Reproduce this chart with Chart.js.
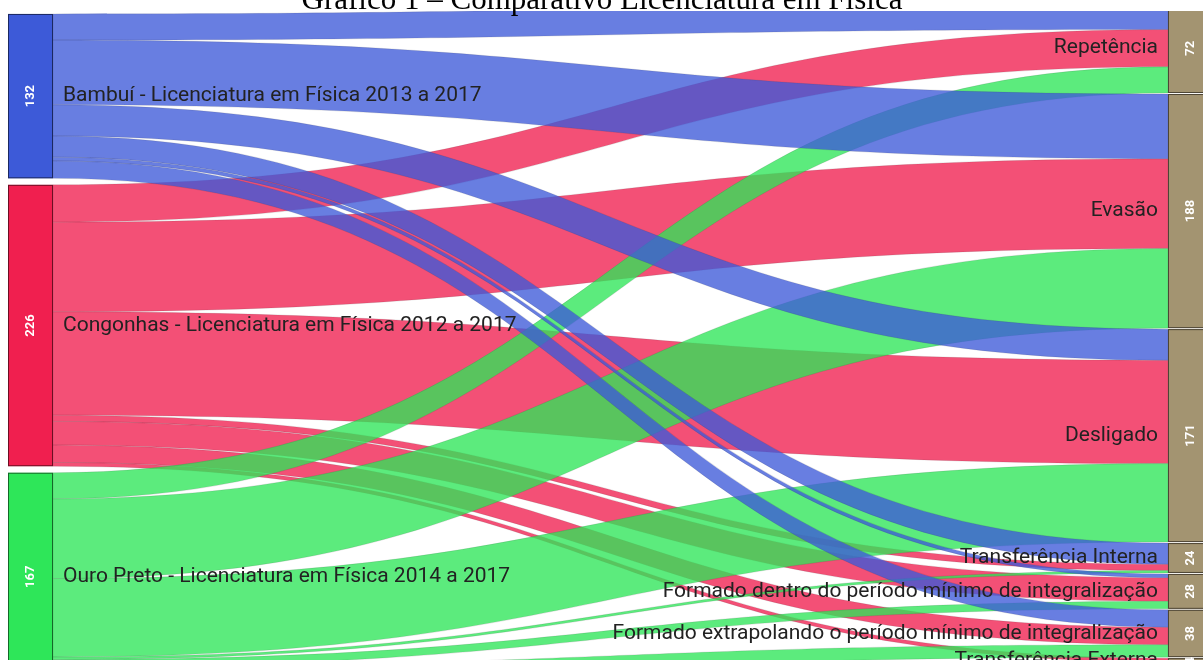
<!DOCTYPE html>
<html>
<head>
<meta charset="utf-8">
<script src="https://cdn.jsdelivr.net/npm/chart.js@4/dist/chart.umd.min.js"></script>
<style>
  html, body { margin: 0; padding: 0; background: #fff; overflow: hidden; }
  #wrap { width: 1203px; height: 660px; }
</style>
</head>
<body>
<div id="wrap"><canvas id="sankey" width="1203" height="660"></canvas></div>
<script>
// cursos (origem) e situações (destino)
const sources = [
    "Bambuí - Licenciatura em Física 2013 a 2017",
    "Congonhas - Licenciatura em Física 2012 a 2017",
    "Ouro Preto - Licenciatura em Física 2014 a 2017"
];
const targets = [
    "Repetência",
    "Evasão",
    "Desligado",
    "Transferência Interna",
    "Formado dentro do período mínimo de integralização",
    "Formado extrapolando o período mínimo de integralização",
    "Transferência Externa"
];

// alunos de cada curso por situação (mesma ordem de targets)
const bambui    = [21, 52, 25, 17, 3, 14, 0];
const congonhas = [30, 72, 83, 5, 19, 14, 3];
const ouroPreto = [21, 64, 63, 2, 6, 10, 1];

const flows = [bambui, congonhas, ouroPreto];
const sourceColors = ["#3d5ad8", "#f01f4f", "#2ee659"];
const targetColor = "#a39471";
const titleText = "Gráfico 1 – Comparativo Licenciatura em Física";

// layout (in scale units)
const colX = [8, 1168];
const nodeW = 45;
const leftTop = 11.2, leftGap = 5.2;
const rightTop = 2.7, rightGap = 0.8;

function stack(totals, top, gap) {
    let pos = top;
    return totals.map((t) => {
        const n = { y0: pos, y1: pos + t, value: t };
        pos += t + gap;
        return n;
    });
}

const sankeyPlugin = {
    id: "sankeyDraw",
    afterDatasetsDraw(chart) {
        const { ctx, scales: { x, y } } = chart;

        const srcTotals = flows.map((f) => f.reduce((a, b) => a + b, 0));
        const tgtTotals = targets.map((_, j) => flows.reduce((a, f) => a + f[j], 0));
        const leftNodes = stack(srcTotals, leftTop, leftGap);
        const rightNodes = stack(tgtTotals, rightTop, rightGap);

        // links
        const sOff = sources.map(() => 0);
        const tOff = targets.map(() => 0);
        const links = [];
        flows.forEach((f, i) => {
            f.forEach((v, j) => {
                if (v > 0) {
                    links.push({
                        i: i,
                        s0: leftNodes[i].y0 + sOff[i], s1: leftNodes[i].y0 + sOff[i] + v,
                        t0: rightNodes[j].y0 + tOff[j], t1: rightNodes[j].y0 + tOff[j] + v
                    });
                }
                sOff[i] += v;
                tOff[j] += v;
            });
        });

        const X0 = x.getPixelForValue(colX[0] + nodeW);
        const X1 = x.getPixelForValue(colX[1]);
        const mid = (X0 + X1) / 2;

        ctx.save();
        [1, 2, 0].forEach((src) => {
            links.filter((l) => l.i === src).forEach((l) => {
                const a = y.getPixelForValue(l.s0), b = y.getPixelForValue(l.s1);
                const c = y.getPixelForValue(l.t0), d = y.getPixelForValue(l.t1);
                ctx.beginPath();
                ctx.moveTo(X0, a);
                ctx.bezierCurveTo(mid, a, mid, c, X1, c);
                ctx.lineTo(X1, d);
                ctx.bezierCurveTo(mid, d, mid, b, X0, b);
                ctx.closePath();
                ctx.globalAlpha = 0.78;
                ctx.fillStyle = sourceColors[src];
                ctx.fill();
                ctx.globalAlpha = 0.18;
                ctx.strokeStyle = "#333";
                ctx.lineWidth = 0.7;
                ctx.stroke();
            });
        });
        ctx.globalAlpha = 1;

        // nodes
        function drawNode(n, xv, color, border) {
            const px0 = x.getPixelForValue(xv), px1 = x.getPixelForValue(xv + nodeW);
            const py0 = y.getPixelForValue(n.y0), py1 = y.getPixelForValue(n.y1);
            ctx.fillStyle = color;
            ctx.fillRect(px0, py0, px1 - px0, py1 - py0);
            ctx.strokeStyle = border;
            ctx.lineWidth = 1;
            ctx.strokeRect(px0 + 0.5, py0 + 0.5, px1 - px0 - 1, py1 - py0 - 1);
            ctx.save();
            ctx.translate((px0 + px1) / 2, (py0 + py1) / 2);
            ctx.rotate(-Math.PI / 2);
            ctx.fillStyle = "#ffffff";
            ctx.font = "bold 13px Roboto";
            ctx.textAlign = "center";
            ctx.textBaseline = "middle";
            ctx.fillText(String(n.value), 0, 0);
            ctx.restore();
        }
        leftNodes.forEach((n, i) => drawNode(n, colX[0], sourceColors[i], "rgba(0,0,0,0.55)"));
        rightNodes.forEach((n) => drawNode(n, colX[1], targetColor, "#4d4535"));

        // labels
        ctx.font = "21px Roboto";
        ctx.fillStyle = "#222";
        ctx.textBaseline = "middle";
        ctx.textAlign = "left";
        leftNodes.forEach((n, i) => {
            ctx.fillText(sources[i], x.getPixelForValue(colX[0] + nodeW + 10),
                y.getPixelForValue((n.y0 + n.y1) / 2));
        });
        ctx.textAlign = "right";
        rightNodes.forEach((n, j) => {
            ctx.fillText(targets[j], x.getPixelForValue(colX[1] - 10),
                y.getPixelForValue((n.y0 + n.y1) / 2));
        });

        // title strip (top of the picture is cut)
        ctx.fillStyle = "#fff";
        ctx.fillRect(0, 0, chart.width, 11);
        ctx.fillStyle = "#000";
        ctx.font = '31px "Liberation Serif"';
        ctx.textAlign = "center";
        ctx.textBaseline = "alphabetic";
        ctx.fillText(titleText, 602, 9);
        ctx.restore();
    }
};

new Chart(document.getElementById("sankey"), {
    type: "scatter",
    data: { datasets: [{ data: [] }] },
    options: {
        responsive: false,
        animation: false,
        layout: { padding: 0 },
        scales: {
            x: { type: "linear", min: 0, max: 1203, display: false },
            y: { type: "linear", min: 0, max: 530, reverse: true, display: false }
        },
        plugins: {
            legend: { display: false },
            tooltip: { enabled: false },
            title: { display: false }
        }
    },
    plugins: [sankeyPlugin]
});
</script>
</body>
</html>
